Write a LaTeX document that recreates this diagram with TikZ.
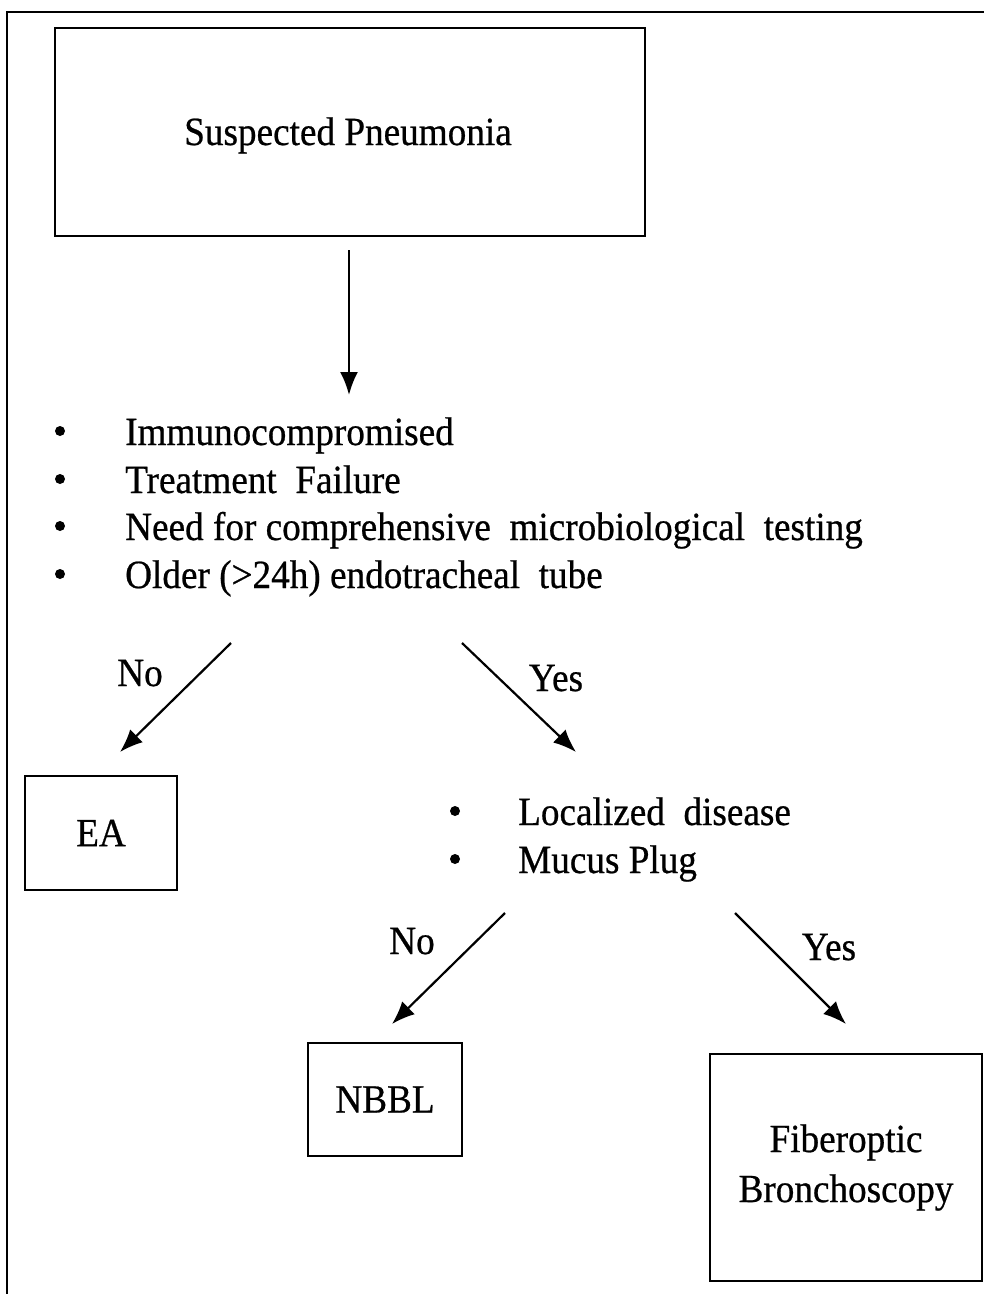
\documentclass[tikz,border=0pt]{standalone}
\usepackage{fontspec}
\setmainfont{Liberation Serif}[FakeStretch=0.93,FakeBold=0.6]
\usetikzlibrary{arrows.meta}
\begin{document}
\begin{tikzpicture}[x=1pt,y=-1pt,
  box/.style={draw, line width=2.2pt, inner sep=0pt, align=center, font=\fontsize{40}{50}\selectfont},
  txt/.style={font=\fontsize{40}{48}\selectfont, inner sep=0pt, anchor=base west},
  lbl/.style={font=\fontsize{40}{48}\selectfont, inner sep=0pt, anchor=base},
  bul/.style={circle, fill, inner sep=0pt, minimum size=10pt},
  arr/.style={line width=2.2pt, -{Latex[length=23pt,width=18pt]}},
]
\useasboundingbox (0,0) rectangle (984,1294);
\draw[line width=2pt] (7,1294) -- (7,12) -- (984,12);

% boxes
\node[box, minimum width=590pt, minimum height=208pt] (susp) at (350,132) {};
\node[font=\fontsize{40}{48}\selectfont, inner sep=0pt, anchor=base] (susptxt) at (348,145) {Suspected Pneumonia};
\node[box, minimum width=152pt, minimum height=114pt] (ea) at (101,833) {EA};
\node[box, minimum width=154pt, minimum height=113pt] (nbbl) at (385,1099.5) {NBBL};
\node[box, minimum width=272pt, minimum height=227pt] (fob) at (846,1167.5) {Fiberoptic\\Bronchoscopy};

% first criteria list
\node[bul] (d1) at (60,431) {};
\node[txt] (c1) at (125,445) {Immunocompromised};
\node[bul] (d2) at (60,479) {};
\node[txt] (c2) at (125,493) {Treatment\ \ Failure};
\node[bul] (d3) at (60,526) {};
\node[txt] (c3) at (125,540) {Need for comprehensive\ \ microbiological\ \ testing};
\node[bul] (d4) at (60,574) {};
\node[txt] (c4) at (125,588) {Older (>24h) endotracheal\ \ tube};

% second criteria list
\node[bul] (e1) at (455,811) {};
\node[txt] (k1) at (518,825) {Localized\ \ disease};
\node[bul] (e2) at (455,859) {};
\node[txt] (k2) at (518,873) {Mucus Plug};

% connectors
\coordinate (p0) at (349,250);
\coordinate (p1) at (349,395);
\draw[arr] (p0) -- (p1);

\coordinate (n0) at (231,643);
\coordinate (n1) at (120,752);
\draw[arr] (n0) -- (n1);
\node[lbl] (lno1) at (140,686) {No};

\coordinate (y0) at (462,643);
\coordinate (y1) at (576,752);
\draw[arr] (y0) -- (y1);
\node[lbl] (lyes1) at (556,691) {Yes};

\coordinate (n2) at (505,913);
\coordinate (n3) at (392,1024);
\draw[arr] (n2) -- (n3);
\node[lbl] (lno2) at (412,954) {No};

\coordinate (y2) at (735,913);
\coordinate (y3) at (846,1024);
\draw[arr] (y2) -- (y3);
\node[lbl] (lyes2) at (829,960) {Yes};
\end{tikzpicture}
\end{document}
